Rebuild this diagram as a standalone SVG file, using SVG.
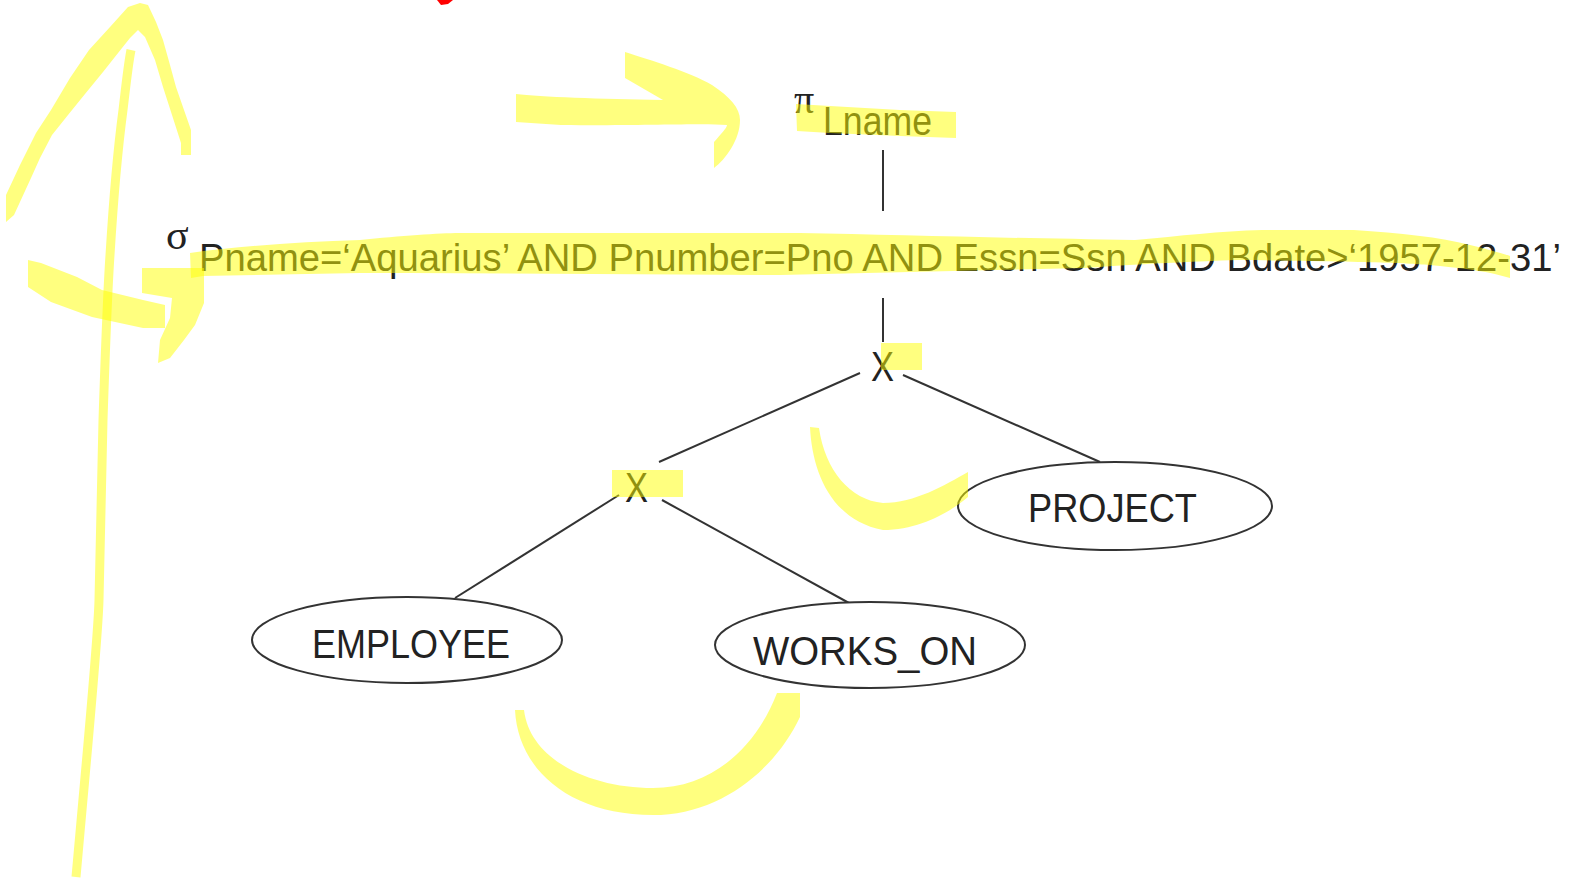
<svg xmlns="http://www.w3.org/2000/svg" width="1576" height="879" viewBox="0 0 1576 879">
  <style>
    .lbl { font-family: "Liberation Sans", Arial, sans-serif; fill: #222; }
    .greek { font-family: "Liberation Serif", "Times New Roman", serif; fill: #222; }
    .edge { stroke: #333; stroke-width: 2; fill: none; }
    .rel { stroke: #333; stroke-width: 2; fill: #fff; }
    .hl { fill: #ffff00; opacity: 0.5; }
    .hls { stroke: #ffff00; opacity: 0.5; fill: none; }
  </style>
  <rect width="1576" height="879" fill="#fff"/>

  <!-- tree edges -->
  <g id="connectors">
    <line class="edge" x1="883" y1="150" x2="883" y2="211"/>
    <line class="edge" x1="883" y1="298" x2="883" y2="342"/>
    <line class="edge" x1="860" y1="373" x2="659" y2="462"/>
    <line class="edge" x1="903" y1="375" x2="1100" y2="462"/>
    <line class="edge" x1="619" y1="495" x2="455" y2="598"/>
    <line class="edge" x1="662" y1="500" x2="849" y2="603"/>
  </g>

  <!-- projection -->
  <g id="project-op">
    <text class="greek" x="794" y="113" font-size="40">π</text>
    <text class="lbl" x="823" y="135" font-size="41" textLength="109" lengthAdjust="spacingAndGlyphs">Lname</text>
  </g>

  <!-- selection -->
  <g id="select-op">
    <text class="greek" x="166" y="249" font-size="42">σ</text>
    <text class="lbl" x="199" y="271" font-size="38" textLength="1362" lengthAdjust="spacingAndGlyphs">Pname=‘Aquarius’ AND Pnumber=Pno AND Essn=Ssn AND Bdate&gt;‘1957-12-31’</text>
  </g>

  <!-- cartesian products -->
  <g id="product-top">
    <text class="lbl" x="871" y="381" font-size="42" textLength="23" lengthAdjust="spacingAndGlyphs">X</text>
  </g>
  <g id="product-left">
    <text class="lbl" x="625" y="502" font-size="42" textLength="23" lengthAdjust="spacingAndGlyphs">X</text>
  </g>

  <!-- relations -->
  <g id="project">
    <ellipse class="rel" cx="1115" cy="506" rx="157" ry="44"/>
    <text class="lbl" x="1028" y="522" font-size="41" textLength="169" lengthAdjust="spacingAndGlyphs">PROJECT</text>
  </g>
  <g id="employee">
    <ellipse class="rel" cx="407" cy="640" rx="155" ry="43"/>
    <text class="lbl" x="312" y="658" font-size="41" textLength="198" lengthAdjust="spacingAndGlyphs">EMPLOYEE</text>
  </g>
  <g id="works-on">
    <ellipse class="rel" cx="870" cy="645" rx="155" ry="43"/>
    <text class="lbl" x="753" y="665" font-size="41" textLength="224" lengthAdjust="spacingAndGlyphs">WORKS_ON</text>
  </g>

  <!-- highlighter marks -->
  <g id="highlighter">
    <!-- upward arrow on the left -->
    <path class="hls" stroke-width="9" d="M76,877 C90,720 98,640 99,600 C101,520 102,460 103,420 C105,360 107,300 110,255 C114,190 119,140 123,110 C126,85 128,65 131,50"/>
    <polygon class="hl" points="6,222 6,195 20,165 36,133 51,110 70,78 89,50 110,27 128,7 140,3 148,5 156,22 163,40 170,65 176,87 184,110 191,130 191,155 181,155 181,143 172,115 163,87 155,60 145,37 138,30 130,38 122,48 103,72 85,94 68,115 52,135 40,158 31,178 14,215"/>
    <!-- hooked arrow at the selection -->
    <polygon class="hl" points="28,260 41,263 77,277 102,290 143,300 165,305 165,328 143,328 92,317 51,302 28,287"/>
    <polygon class="hl" points="142,268 204,268 204,303 195,325 184,340 170,358 158,363 160,340 170,318 172,298 142,293"/>
    <!-- arrow pointing at the projection -->
    <path class="hl" d="M516,94 C540,97 600,99 663,100 L625,78 L625,52 C650,60 690,72 712,85 C730,97 740,108 740,120 C740,140 725,160 714,168 L714,142 C720,135 727,128 727,125 C700,123 650,126 561,125 L516,122 Z"/>
    <!-- Lname -->
    <polygon class="hl" points="796,104 830,106 900,110 956,112 956,138 900,136 830,133 797,131"/>
    <!-- selection condition -->
    <path class="hl" d="M190,253 C240,246 300,242 360,240 C400,236 440,233 459,233 L800,233 C900,235 1000,238 1135,240 C1180,236 1220,231 1262,230 L1354,230 C1400,233 1440,237 1470,245 C1490,250 1505,254 1510,256 L1510,278 C1490,272 1470,269 1440,266 C1410,263 1390,262 1237,260 C1150,263 1100,267 1085,268 L780,275 L408,273 L360,273 L203,276 L191,278 Z"/>
    <!-- products -->
    <rect class="hl" x="881" y="343" width="41" height="27"/>
    <rect class="hl" x="612" y="470" width="71" height="27"/>
    <!-- curves under the products -->
    <path class="hl" d="M810,427 C812,470 830,520 883,530 C920,530 950,512 968,497 L968,472 C945,485 915,503 883,503 C850,500 825,470 819,428 Z"/>
    <path class="hl" d="M515,710 C518,770 570,815 653,815 C720,815 775,770 800,717 L800,693 L777,693 C755,750 710,788 653,788 C590,788 530,760 524,710 Z"/>
  </g>

  <!-- red mark at the top edge -->
  <polygon points="437,0 453,0 448,4 441,5" fill="#ff0000"/>
</svg>
